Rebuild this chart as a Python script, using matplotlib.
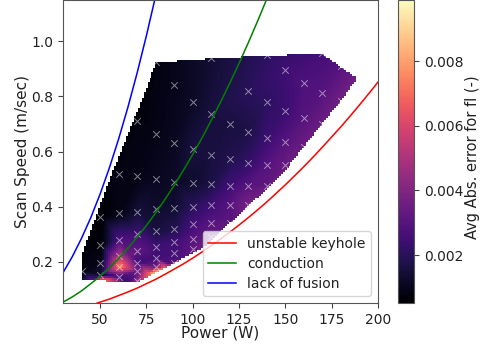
import numpy as np
import matplotlib
matplotlib.use('Agg')
import matplotlib.pyplot as plt
import matplotlib.tri as mtri

# measured build points (power, speed, avg abs error x 1e-3)
power = [40, 50, 50, 50, 50,
         60, 60, 60, 60, 60, 60,
         70, 70, 70, 70, 70, 70, 70, 70,
         80, 80, 80, 80, 80, 80, 80, 80,
         90, 90, 90, 90, 90, 90, 90, 90,
         100, 100, 100, 100, 100, 100, 100,
         110, 110, 110, 110, 110, 110, 110,
         120, 120, 120, 120, 120,
         130, 130, 130, 130, 130,
         140, 140, 140, 140, 140,
         150, 150, 150, 150,
         160, 160, 160,
         170, 170, 170,
         180, 180]
speed = [0.165, 0.364, 0.26, 0.197, 0.15,
         0.52, 0.375, 0.28, 0.22, 0.18, 0.143,
         0.71, 0.51, 0.38, 0.30, 0.24, 0.197, 0.165, 0.13,
         0.925, 0.665, 0.50, 0.39, 0.31, 0.255, 0.215, 0.18,
         0.84, 0.63, 0.49, 0.396, 0.32, 0.27, 0.23, 0.197,
         0.78, 0.61, 0.487, 0.40, 0.335, 0.284, 0.245,
         0.94, 0.737, 0.588, 0.483, 0.404, 0.342, 0.29,
         0.70, 0.574, 0.476, 0.407, 0.342,
         0.82, 0.672, 0.56, 0.476, 0.407,
         0.95, 0.78, 0.65, 0.552, 0.476,
         0.896, 0.748, 0.633, 0.55,
         0.85, 0.72, 0.617,
         0.958, 0.813, 0.70,
         0.91, 0.784]
error = [0.8, 0.6, 0.7, 1.0, 1.5,
         0.9, 0.9, 2.8, 5.0, 7.5, 2.5,
         0.8, 0.9, 1.5, 2.5, 3.2, 2.5, 3.5, 4.5,
         0.8, 0.9, 1.1, 1.3, 1.6, 2.5, 2.5, 3.5,
         1.0, 1.1, 1.2, 1.4, 1.8, 2.5, 2.6, 2.8,
         1.2, 1.6, 1.3, 2.0, 2.6, 3.0, 3.2,
         1.4, 1.6, 1.6, 1.7, 2.5, 3.0, 3.4,
         1.6, 1.8, 2.5, 3.0, 3.0,
         2.0, 1.7, 2.2, 3.0, 3.8,
         2.1, 2.1, 2.4, 3.0, 3.2,
         2.5, 2.4, 3.0, 3.4,
         2.8, 3.0, 3.5,
         2.6, 3.0, 3.5,
         3.0, 3.6]

# extra samples for the edge and the hot band, no marker there
extra_power = [40, 40, 42, 55, 58, 69, 80, 110, 170, 189, 180, 152.5, 140, 118.5, 105.5, 87, 82, 70,
               62.5, 50, 45, 65, 75, 80, 85, 55, 65]
extra_speed = [0.13, 0.235, 0.255, 0.51, 0.534, 0.74, 0.925, 0.94, 0.958, 0.867, 0.79, 0.552, 0.465,
               0.335, 0.25, 0.19, 0.165, 0.125, 0.125, 0.128, 0.13, 0.125, 0.155, 0.16, 0.175, 0.22, 0.22]
extra_error = [1.5, 0.7, 0.7, 0.8, 0.8, 0.7, 0.8, 1.3, 2.6, 3.6, 3.6, 3.6, 3.5, 3.2, 3.5, 3.0, 8.0,
               4.5, 2.5, 8.0, 3.0, 2.5, 6.5, 8.5, 7.0, 3.5, 3.5]

# regime boundaries
keyhole_p = [48.5, 55, 60, 65, 70, 75, 80, 85, 90, 95, 100, 105, 110, 115, 120, 125, 130, 135, 140,
             145, 150, 155, 160, 165, 170, 175, 180, 185, 190, 195, 200]
keyhole_v = [0.05, 0.064, 0.077, 0.09, 0.104, 0.12, 0.136, 0.154, 0.173, 0.192, 0.213, 0.235, 0.258,
             0.282, 0.307, 0.333, 0.36, 0.388, 0.417, 0.448, 0.479, 0.512, 0.545, 0.58, 0.616, 0.653,
             0.69, 0.729, 0.769, 0.81, 0.852]
conduction_p = [30, 35, 40, 45, 50, 55, 60, 65, 70, 75, 80, 85, 90, 95, 100, 105, 110, 115, 120, 125, 130, 135, 140]
conduction_v = [0.053, 0.072, 0.094, 0.12, 0.147, 0.178, 0.212, 0.249, 0.289, 0.331, 0.377, 0.426, 0.477,
                0.532, 0.589, 0.649, 0.713, 0.779, 0.848, 0.92, 0.995, 1.073, 1.154]
fusion_p = [30, 35, 40, 45, 50, 55, 60, 65, 70, 75, 80]
fusion_v = [0.16, 0.218, 0.285, 0.36, 0.445, 0.54, 0.645, 0.76, 0.885, 1.02, 1.165]

all_p = np.array(power + extra_power)
all_v = np.array(speed + extra_speed)
all_e = np.array(error + extra_error) * 1e-3

# triangulate in screen-like units so triangles are not stretched
v_scale = 150
tri = mtri.Triangulation(all_p, all_v * v_scale)
interp = mtri.LinearTriInterpolator(tri, all_e)
gx, gy = np.meshgrid(np.linspace(40, 190, 140), np.linspace(0.12, 0.96, 116))
gz = interp(gx, gy * v_scale)

fig = plt.figure(figsize=(4.84, 3.51), dpi=100)
ax = fig.add_axes([63/484, 1-303/351, 315/484, 303/351])
cax = fig.add_axes([398/484, 1-303/351, 16/484, 303/351])

im = ax.imshow(gz, origin='lower', extent=[40, 190, 0.12, 0.96], aspect='auto',
               cmap='magma', vmin=0.000515, vmax=0.00989, interpolation='nearest')
ax.scatter(power, speed, marker='x', c='white', s=22, linewidths=0.7, alpha=0.5)

ax.plot(keyhole_p, keyhole_v, color='red', lw=1.1, label='unstable keyhole')
ax.plot(conduction_p, conduction_v, color='green', lw=1.1, label='conduction')
ax.plot(fusion_p, fusion_v, color='blue', lw=1.1, label='lack of fusion')

ax.set_xlim(30, 200)
ax.set_ylim(0.05, 1.15)
ax.set_xticks([50, 75, 100, 125, 150, 175, 200])
ax.set_yticks([0.2, 0.4, 0.6, 0.8, 1.0])
ax.tick_params(labelsize=10, color='#444444', labelcolor='#222222')
for spine in ax.spines.values():
    spine.set_color('#555555')
ax.set_xlabel('Power (W)', fontsize=11, labelpad=-1, color='#222222')
ax.set_ylabel('Scan Speed (m/sec)', fontsize=11, labelpad=1, color='#222222')
ax.legend(loc='lower right', fontsize=10, handlelength=2, borderaxespad=0.5, labelspacing=0.42,
          labelcolor='#222222')

cb = fig.colorbar(im, cax=cax)
cb.set_ticks([0.002, 0.004, 0.006, 0.008])
cb.ax.tick_params(labelsize=10, color='#444444', labelcolor='#222222')
cb.outline.set_edgecolor('#555555')
cb.set_label('Avg Abs. error for fl (-)', fontsize=10.5, color='#222222', labelpad=1)
cb.ax.yaxis.label.set_y(0.48)

fig.savefig('out.png', dpi=100)
